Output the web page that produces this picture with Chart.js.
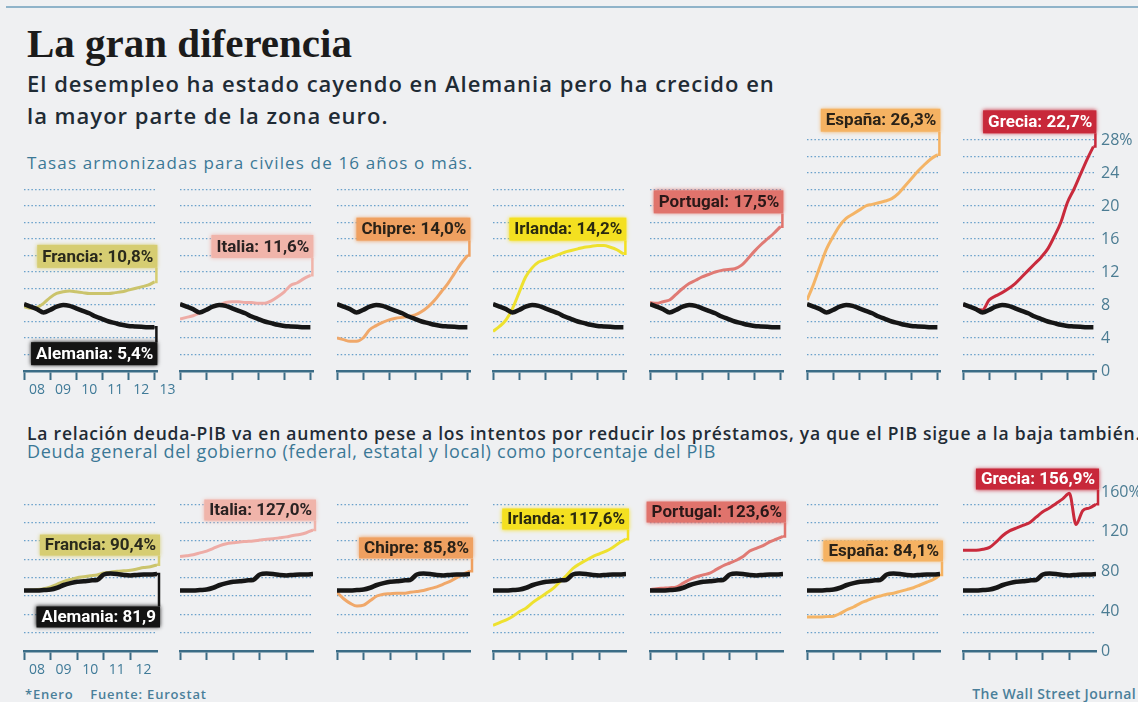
<!DOCTYPE html>
<html lang="es">
<head>
<meta charset="utf-8">
<title>La gran diferencia</title>
<script src="https://cdn.jsdelivr.net/npm/chart.js@4.4.1/dist/chart.umd.min.js"></script>
<style>
  html, body { margin: 0; padding: 0; background: #eff0f2; }
  #page { position: relative; width: 1138px; height: 702px; overflow: hidden; background: #eff0f2; }
  .rule { position: absolute; left: 6px; right: 0; top: 6px; height: 2px; background: #8fb3c9; }
  .t { position: absolute; left: 27px; margin: 0; white-space: nowrap; }
  #titulo { top: 23px; font: bold 41px/41px 'Liberation Serif', serif; color: #1b1b1b; }
  #sub1 { top: 67px; font: 600 22px/32px 'Open Sans', sans-serif; letter-spacing: 1px; color: #1f2b35; }
  #cap1 { top: 153px; font: 400 17px/20px 'Open Sans', sans-serif; letter-spacing: 1.15px; color: #3b7896; }
  #sub2 { top: 423px; font: 600 17.5px/20px 'Open Sans', sans-serif; letter-spacing: 0.78px; color: #1f2b35; }
  #cap2 { top: 440px; font: 400 18px/22px 'Open Sans', sans-serif; letter-spacing: 0.65px; color: #3b7896; }
  #nota { top: 686px; left: 25px; font: 600 13px/16px 'Open Sans', sans-serif; letter-spacing: 0.8px; color: #4a7f9a; }
  #firma { top: 686px; left: auto; right: 2px; font: 600 14px/16px 'Open Sans', sans-serif; letter-spacing: 0.4px; color: #4a7f9a; }
  canvas { position: absolute; }
</style>
</head>
<body>
<div id="page">
  <div class="rule"></div>
  <h1 class="t" id="titulo">La gran diferencia</h1>
  <div class="t" id="sub1">El desempleo ha estado cayendo en Alemania pero ha crecido en<br>la mayor parte de la zona euro.</div>
  <div class="t" id="cap1">Tasas armonizadas para civiles de 16 años o más.</div>
  <div class="t" id="sub2">La relación deuda-PIB va en aumento pese a los intentos por reducir los préstamos, ya que el PIB sigue a la baja también.</div>
  <div class="t" id="cap2">Deuda general del gobierno (federal, estatal y local) como porcentaje del PIB</div>
  <div class="t" id="nota">*Enero&nbsp;&nbsp;&nbsp; Fuente: Eurostat</div>
  <div class="t" id="firma">The Wall Street Journal</div>
</div>
<script>
// posición de cada dato en años (trimestral)
const periods = [2008, 2008.25, 2008.5, 2008.75, 2009, 2009.25, 2009.5, 2009.75, 2010, 2010.25, 2010.5,
  2010.75, 2011, 2011.25, 2011.5, 2011.75, 2012, 2012.25, 2012.5, 2012.75, 2013];

const countries = ['Francia', 'Italia', 'Chipre', 'Irlanda', 'Portugal', 'España', 'Grecia'];

// desempleo, %
const paroAlemania = [8.1, 7.8, 7.5, 7.1, 7.4, 7.8, 8.0, 7.9, 7.6, 7.3, 7.0, 6.6, 6.3, 6.0, 5.8, 5.6, 5.45, 5.4, 5.35, 5.3, 5.3];
const paroFrancia = [7.8, 7.6, 7.7, 8.2, 8.9, 9.4, 9.6, 9.7, 9.6, 9.5, 9.4, 9.4, 9.4, 9.4, 9.5, 9.6, 9.8, 10.0, 10.2, 10.4, 10.8];
const paroItalia = [6.3, 6.5, 6.7, 7.0, 7.4, 7.8, 8.0, 8.3, 8.4, 8.4, 8.3, 8.3, 8.2, 8.2, 8.5, 9.0, 9.6, 10.4, 10.7, 11.2, 11.6];
const paroChipre = [4.0, 3.8, 3.6, 3.6, 4.0, 5.0, 5.5, 5.9, 6.2, 6.4, 6.5, 6.6, 6.8, 7.2, 7.8, 8.6, 9.6, 10.6, 11.8, 13.0, 14.0];
const paroIrlanda = [4.8, 5.4, 6.2, 7.6, 9.5, 11.4, 12.5, 13.2, 13.5, 13.8, 14.1, 14.4, 14.6, 14.8, 15.0, 15.1, 15.2, 15.2, 15.0, 14.7, 14.2];
const paroPortugal = [8.3, 8.2, 8.4, 8.6, 9.3, 10.0, 10.6, 11.0, 11.4, 11.7, 12.0, 12.2, 12.3, 12.4, 12.8, 13.6, 14.5, 15.3, 16.0, 16.7, 17.5];
const paroEspana = [8.6, 10.5, 12.7, 14.8, 16.3, 17.6, 18.5, 19.0, 19.5, 20.0, 20.2, 20.4, 20.6, 20.9, 21.5, 22.4, 23.3, 24.2, 25.0, 25.7, 26.2];
const paroGrecia = [8.0, 7.8, 7.5, 7.4, 8.6, 9.1, 9.5, 10.0, 10.6, 11.4, 12.2, 13.0, 13.8, 14.8, 16.3, 18.0, 20.4, 22.0, 23.8, 25.6, 27.2];
const paroEtiquetas = ['Francia: 10,8%', 'Italia: 11,6%', 'Chipre: 14,0%', 'Irlanda: 14,2%',
  'Portugal: 17,5%', 'España: 26,3%', 'Grecia: 22,7%'];
const paroEtiquetaAlemania = 'Alemania: 5,4%';

// deuda pública, % del PIB
const deudaAlemania = [66, 66, 66, 66.5, 67, 69, 72, 74, 75.5, 76, 77, 77.5, 83.5, 84.5, 84, 83, 82.5, 83, 83.5, 83.5, 84];
const deudaFrancia = [66, 66.5, 67, 68, 70, 73, 76, 78, 80, 81, 82, 83, 85, 86, 87, 87.5, 88, 89.5, 91, 92, 94];
const deudaItalia = [103, 104, 105, 107, 109, 112, 115, 117, 118, 119, 119.5, 120, 121, 122, 122.5, 123.5, 124.5, 126, 127, 129, 132];
const deudaChipre = [64, 57, 52, 49, 50, 55, 60, 62, 62.5, 63, 63, 64, 65, 66, 68, 70, 73, 76, 80, 84, 87];
const deudaIrlanda = [28, 31, 34, 38, 43, 47, 53, 58, 63, 68, 75, 82, 90, 95, 99, 103, 106, 109, 113, 118, 122];
const deudaPortugal = [67, 68, 68.5, 69, 70, 74, 78, 81, 83, 85, 89, 93, 96, 99, 103, 109, 112, 115, 119, 122, 125];
const deudaEspana = [37, 37, 37, 37.5, 38, 41, 45, 48, 52, 55, 58, 60, 62, 63, 65, 67, 69, 72, 75, 78, 83];
const deudaGrecia = [110, 110, 110, 111, 113, 119, 126, 131, 134, 137, 140, 146, 152, 156, 161, 166, 172, 138, 153, 156, 160];
const deudaEtiquetas = ['Francia: 90,4%', 'Italia: 127,0%', 'Chipre: 85,8%', 'Irlanda: 117,6%',
  'Portugal: 123,6%', 'España: 84,1%', 'Grecia: 156,9%'];
const deudaEtiquetaAlemania = 'Alemania: 81,9';

// ejes
const paroYears = [2008, 2009, 2010, 2011, 2012, 2013];
const paroYearLabels = ['08', '09', '10', '11', '12', '13'];
const deudaYears = [2008, 2009, 2010, 2011, 2012];
const deudaYearLabels = ['08', '09', '10', '11', '12'];
const paroEje = ['0', '4', '8', '12', '16', '20', '24', '28%'];
const deudaEje = ['0', '40', '80', '120', '160%'];

// estilos
const lineColors = ['#cbc46c', '#eeaca6', '#f0a86a', '#eee12f', '#e07a74', '#f4b466', '#c92a3c'];
const boxColors = ['#d6cd72', '#f0b4aa', '#efa060', '#f4e020', '#e0736c', '#f5b262', '#c8283a'];
const boxText = ['#2a2a1c', '#2a2222', '#2a2218', '#2a2a10', '#2a1818', '#2a2218', '#ffffff'];
// altura de las etiquetas, en unidades del eje
const paroBoxY = [13.9, 15.1, 17.2, 17.2, 20.5, 30.4, 30.2];
const deudaBoxY = [115.6, 153.8, 112.4, 144, 151.6, 109.1, 187.6];
const paroAlemaniaBoxY = 2.1;
const deudaAlemaniaBoxY = 37.1;

const AXIS = '#3b6c86';
const TEAL = '#3f7a98';
const GRID = 'rgba(70,140,192,0.8)';
const panelLefts = [24, 180, 337, 493, 650, 807, 963];
const PLOT_W = 133;

const rows = [
  {
    top: 100, padTop: 40, plotH: 231, xMax: 2013.1, yMax: 28, step: 2,
    gridLimit: [22, 22, 22, 22, 22, 28, 28],
    years: paroYears, yearLabels: paroYearLabels,
    germany: paroAlemania, series: [paroFrancia, paroItalia, paroChipre, paroIrlanda, paroPortugal, paroEspana, paroGrecia],
    labels: paroEtiquetas, boxY: paroBoxY, gerLabel: paroEtiquetaAlemania, gerBoxY: paroAlemaniaBoxY,
    boxH: 23, axisMax: 28, axisStep: 4, axisLabels: paroEje
  },
  {
    top: 455, padTop: 31, plotH: 165, xMax: 2013, yMax: 180, step: 20,
    gridLimit: [160, 160, 160, 160, 160, 160, 160],
    years: deudaYears, yearLabels: deudaYearLabels,
    germany: deudaAlemania, series: [deudaFrancia, deudaItalia, deudaChipre, deudaIrlanda, deudaPortugal, deudaEspana, deudaGrecia],
    labels: deudaEtiquetas, boxY: deudaBoxY, gerLabel: deudaEtiquetaAlemania, gerBoxY: deudaAlemaniaBoxY,
    boxH: 21, axisMax: 166, axisStep: 40, axisLabels: deudaEje
  }
];

const toPoints = vals => vals.map((v, i) => ({ x: periods[i], y: v }));

// etiqueta con recuadro y línea guía hasta el último dato
const calloutPlugin = {
  id: 'callout',
  afterDatasetsDraw(chart, args, opts) {
    const ctx = chart.ctx;
    const yScale = chart.scales.y;
    (opts.items || []).forEach(item => {
      const pts = chart.getDatasetMeta(item.dataset).data;
      const end = pts[pts.length - 1];
      ctx.save();
      ctx.font = "bold 17px Roboto, 'Open Sans', sans-serif";
      const w = ctx.measureText(item.text).width + 9;
      const h = item.height;
      const right = end.x + 3;
      const cy = yScale.getPixelForValue(item.y);
      const top = cy - h / 2;
      const edge = top > end.y ? top : top + h;
      ctx.strokeStyle = item.fill;
      ctx.lineWidth = 2.5;
      ctx.beginPath();
      ctx.moveTo(right - 1, edge);
      ctx.lineTo(right - 1, end.y);
      ctx.lineTo(end.x, end.y);
      ctx.stroke();
      ctx.shadowColor = item.fill;
      ctx.shadowBlur = 4;
      ctx.fillStyle = item.fill;
      ctx.fillRect(right - w, top, w, h);
      ctx.shadowBlur = 0;
      ctx.fillStyle = item.color;
      ctx.textAlign = 'right';
      ctx.textBaseline = 'middle';
      ctx.fillText(item.text, right - 4, cy + 1);
      ctx.restore();
    });
  }
};

function buildPanel(row, i) {
  const last = i === 6;
  const padL = 12, padR = last ? 0 : 24, axisW = last ? 42 : 0;
  const canvas = document.createElement('canvas');
  canvas.width = padL + PLOT_W + padR + axisW;
  canvas.height = row.padTop + row.plotH + 30;
  canvas.style.left = (panelLefts[i] - padL) + 'px';
  canvas.style.top = row.top + 'px';
  document.getElementById('page').appendChild(canvas);

  const items = [{ dataset: 1, text: row.labels[i], y: row.boxY[i], fill: boxColors[i], color: boxText[i], height: row.boxH }];
  if (i === 0) {
    items.push({ dataset: 0, text: row.gerLabel, y: row.gerBoxY, fill: '#141414', color: '#ffffff', height: row.boxH });
  }

  const scales = {
    x: {
      type: 'linear', min: 2008, max: row.xMax,
      afterBuildTicks: s => { s.ticks = row.years.map(v => ({ value: v })); },
      afterFit: s => { s.height = 30; s.paddingLeft = 0; s.paddingRight = 0; },
      border: { display: true, color: AXIS, width: 2.5 },
      grid: { drawOnChartArea: false, drawTicks: true, tickLength: 9, tickWidth: 2, tickColor: AXIS, color: AXIS },
      ticks: {
        autoSkip: false, maxRotation: 0, align: 'start', labelOffset: 5, padding: 2,
        color: TEAL, font: { size: 14 },
        callback: (v, idx) => (i === 0 ? row.yearLabels[idx] : '')
      }
    },
    y: {
      min: 0, max: row.yMax,
      afterFit: s => { s.width = 0; s.paddingTop = 0; s.paddingBottom = 0; },
      ticks: { display: false, stepSize: row.step },
      border: { display: false, dash: [1.5, 2.2] },
      grid: {
        drawTicks: false, lineWidth: 1.3,
        color: c => (c.tick && c.tick.value > 0 && c.tick.value <= row.gridLimit[i] ? GRID : 'transparent')
      }
    }
  };
  if (last) {
    scales.y2 = {
      position: 'right', min: 0, max: row.axisMax,
      afterFit: s => { s.width = axisW; s.paddingTop = 0; s.paddingBottom = 0; },
      grid: { display: false, drawTicks: false },
      border: { display: false },
      ticks: {
        stepSize: row.axisStep, includeBounds: false, padding: 5,
        color: '#4b7c93', font: { size: 16 },
        callback: (v, idx) => row.axisLabels[idx]
      }
    };
  }

  new Chart(canvas, {
    type: 'line',
    data: {
      datasets: [
        {
          label: 'Alemania',
          data: toPoints(row.germany),
          borderColor: '#161616', borderWidth: 4.5,
          pointRadius: 0, tension: 0.3, cubicInterpolationMode: 'monotone'
        },
        {
          label: countries[i],
          data: toPoints(row.series[i]),
          borderColor: lineColors[i], borderWidth: 3,
          pointRadius: 0, tension: 0.3, cubicInterpolationMode: 'monotone'
        }
      ]
    },
    options: {
      responsive: false,
      animation: false,
      events: [],
      layout: { padding: { left: padL, right: padR, top: row.padTop, bottom: 0 } },
      scales: scales,
      plugins: {
        legend: { display: false },
        tooltip: { enabled: false },
        callout: { items: items }
      }
    },
    plugins: [calloutPlugin]
  });
}

Chart.defaults.font.family = "'Open Sans', sans-serif";
rows.forEach(row => countries.forEach((c, i) => buildPanel(row, i)));
</script>
</body>
</html>
